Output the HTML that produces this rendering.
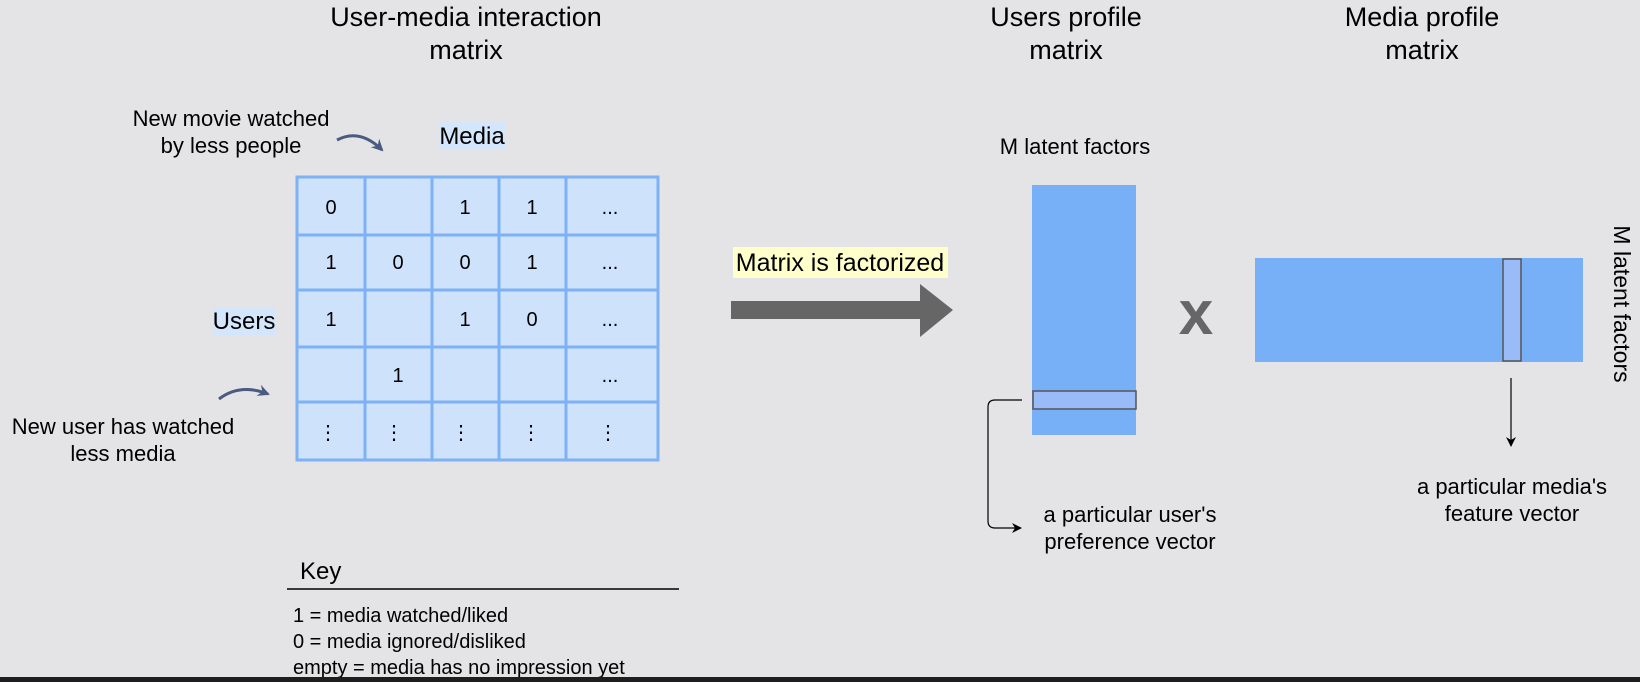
<!DOCTYPE html>
<html><head><meta charset="utf-8"><style>
html,body{margin:0;padding:0;background:#e4e4e6;}
svg{display:block;font-family:"Liberation Sans",Arial,sans-serif;}
</style></head><body>
<svg width="1640" height="682" viewBox="0 0 1640 682" xmlns="http://www.w3.org/2000/svg">
<rect width="1640" height="682" fill="#e4e4e6"/>
<defs>
<marker id="ah" markerWidth="10" markerHeight="10" refX="9" refY="5" orient="auto" markerUnits="userSpaceOnUse"><path d="M0,0 L10,5 L0,10 L3,5 Z" fill="#000"/></marker>
<marker id="ah2" markerWidth="12" markerHeight="12" refX="10" refY="6" orient="auto" markerUnits="userSpaceOnUse"><path d="M0,0 L12,6 L0,12 L4,6 Z" fill="#4a5a80"/></marker>
</defs>
<g font-size="27" text-anchor="middle" fill="#000">
<text x="466" y="26">User-media interaction</text>
<text x="466" y="59">matrix</text>
<text x="1066" y="26">Users profile</text>
<text x="1066" y="59">matrix</text>
<text x="1422" y="26">Media profile</text>
<text x="1422" y="59">matrix</text>
</g>
<g font-size="22" text-anchor="middle">
<text x="231" y="126">New movie watched</text>
<text x="231" y="153">by less people</text>
<text x="123" y="434">New user has watched</text>
<text x="123" y="461">less media</text>
</g>
<rect x="440" y="122" width="65" height="28" fill="#d4e6fb"/>
<text x="472" y="144" font-size="24" text-anchor="middle">Media</text>
<rect x="213" y="307" width="63" height="28" fill="#d4e6fb"/>
<text x="244" y="329" font-size="24" text-anchor="middle">Users</text>
<path d="M337,140 Q360,128 382,150" fill="none" stroke="#4a5a80" stroke-width="3" marker-end="url(#ah2)"/>
<path d="M219,399 Q240,383 268,394" fill="none" stroke="#4a5a80" stroke-width="3" marker-end="url(#ah2)"/>
<rect x="297" y="177" width="361" height="283" fill="#cfe2fb"/>
<g stroke="#7eb2f5" stroke-width="3" fill="none">
<rect x="297" y="177" width="361" height="283"/>
<line x1="365" y1="177" x2="365" y2="460"/><line x1="432" y1="177" x2="432" y2="460"/>
<line x1="499" y1="177" x2="499" y2="460"/><line x1="566" y1="177" x2="566" y2="460"/>
<line x1="297" y1="235" x2="658" y2="235"/><line x1="297" y1="290" x2="658" y2="290"/>
<line x1="297" y1="347" x2="658" y2="347"/><line x1="297" y1="402" x2="658" y2="402"/>
</g>
<g font-size="20" text-anchor="middle">
<text x="331" y="214">0</text><text x="465" y="214">1</text><text x="532" y="214">1</text><text x="610" y="214">...</text>
<text x="331" y="269">1</text><text x="398" y="269">0</text><text x="465" y="269">0</text><text x="532" y="269">1</text><text x="610" y="269">...</text>
<text x="331" y="326">1</text><text x="465" y="326">1</text><text x="532" y="326">0</text><text x="610" y="326">...</text>
<text x="398" y="382">1</text><text x="610" y="382">...</text>
<text x="328" y="439">⋮</text><text x="394" y="439">⋮</text><text x="461" y="439">⋮</text><text x="531" y="439">⋮</text><text x="608" y="439">⋮</text>
</g>
<text x="300" y="579" font-size="24">Key</text>
<line x1="287" y1="589" x2="679" y2="589" stroke="#000" stroke-width="1.5"/>
<g font-size="20"><text x="293" y="622">1 = media watched/liked</text><text x="293" y="648">0 = media ignored/disliked</text><text x="293" y="674">empty = media has no impression yet</text></g>
<rect x="733" y="247" width="215" height="31" fill="#ffffcc"/>
<text x="840" y="271" font-size="25" text-anchor="middle">Matrix is factorized</text>
<path d="M731,301 L920,301 L920,284 L953,310 L920,337 L920,319 L731,319 Z" fill="#666"/>
<text x="1075" y="154" font-size="22" text-anchor="middle">M latent factors</text>
<rect x="1032" y="185" width="104" height="250" fill="#78b0f8"/>
<rect x="1033" y="391" width="103" height="18" fill="#99bbf8" stroke="#555" stroke-width="1.5"/>
<path d="M1022,400 L995,400 Q988,400 988,407 L988,521 Q988,528 995,528 L1021,528" fill="none" stroke="#000" stroke-width="1.2" marker-end="url(#ah)"/>
<g font-size="22" text-anchor="middle"><text x="1130" y="522">a particular user's</text><text x="1130" y="549">preference vector</text>
<text x="1512" y="494">a particular media's</text><text x="1512" y="521">feature vector</text></g>
<text x="1196" y="334" font-size="62" font-weight="bold" fill="#666" text-anchor="middle">x</text>
<rect x="1255" y="258" width="328" height="104" fill="#78b0f8"/>
<rect x="1503" y="259" width="18" height="102" fill="#99bbf8" stroke="#555" stroke-width="1.5"/>
<line x1="1511" y1="378" x2="1511" y2="446" stroke="#000" stroke-width="1.2" marker-end="url(#ah)"/>
<text transform="translate(1614,304) rotate(90)" font-size="23" text-anchor="middle">M latent factors</text>
<rect x="0" y="677" width="1640" height="5" fill="#1e1e1e"/>
</svg>
</body></html>
